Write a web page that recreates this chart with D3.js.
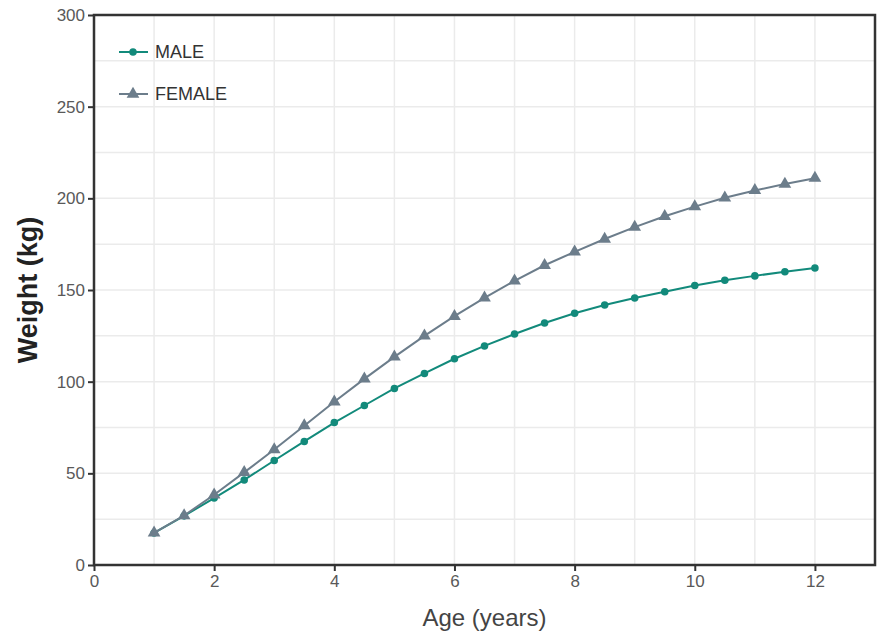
<!DOCTYPE html>
<html>
<head>
<meta charset="utf-8">
<script src="https://cdn.jsdelivr.net/npm/d3@7"></script>
<style>
  body { margin: 0; background: #fff; }
  text { font-family: "Liberation Sans", Arial, sans-serif; }
</style>
</head>
<body>
<script>
// data
var ages = [1, 1.5, 2, 2.5, 3, 3.5, 4, 4.5, 5, 5.5, 6, 6.5, 7, 7.5, 8, 8.5, 9, 9.5, 10, 10.5, 11, 11.5, 12];
var male = [17.5, 26.8, 36.5, 46.4, 57, 67.4, 77.7, 87, 96.3, 104.5, 112.5, 119.5, 126, 132, 137.3, 141.8, 145.6, 149, 152.5, 155.3, 157.7, 160, 162];
var female = [17.5, 27, 38.3, 50.5, 63, 76, 89, 101.5, 113.5, 125, 135.7, 145.7, 155, 163.5, 170.8, 177.8, 184.3, 190.2, 195.5, 200.3, 204.3, 207.8, 211];
var xTicks = [0, 2, 4, 6, 8, 10, 12];
var yTicks = [0, 50, 100, 150, 200, 250, 300];

var W = 882, H = 636;
var margin = {left: 94, right: 7, top: 15, bottom: 71};

var svg = d3.select("body").append("svg").attr("width", W).attr("height", H);

var x = d3.scaleLinear().domain([0, 13]).range([margin.left, W - margin.right]);
var y = d3.scaleLinear().domain([0, 300]).range([H - margin.bottom, margin.top]);

// grid, major + minor
var g = svg.append("g");
d3.range(0, 13.01, 1).forEach(function (v) {
    g.append("line").attr("x1", x(v)).attr("x2", x(v)).attr("y1", y(0)).attr("y2", y(300))
        .attr("stroke", "#ebebeb").attr("stroke-width", 1.5);
});
d3.range(0, 300.1, 25).forEach(function (v) {
    g.append("line").attr("x1", x(0)).attr("x2", x(13)).attr("y1", y(v)).attr("y2", y(v))
        .attr("stroke", "#ebebeb").attr("stroke-width", 1.5);
});

// axes
var xAxis = svg.append("g").attr("transform", "translate(0," + y(0) + ")")
    .call(d3.axisBottom(x).tickValues(xTicks).tickSize(6).tickPadding(4).tickFormat(d3.format("d")));
var yAxis = svg.append("g").attr("transform", "translate(" + x(0) + ",0)")
    .call(d3.axisLeft(y).tickValues(yTicks).tickSize(6).tickPadding(3).tickFormat(d3.format("d")));
[xAxis, yAxis].forEach(function (a) {
    a.select(".domain").remove();
    a.selectAll(".tick line").attr("stroke", "#333").attr("stroke-width", 2);
    a.selectAll(".tick text").attr("fill", "#595959").style("font-size", "17px");
});

// panel border
svg.append("rect").attr("x", x(0)).attr("y", y(300))
    .attr("width", x(13) - x(0)).attr("height", y(0) - y(300))
    .attr("fill", "none").attr("stroke", "#333").attr("stroke-width", 2.5);

var series = [
    {name: "MALE", values: male, color: "#128a7b", shape: d3.symbolCircle, size: 45},
    {name: "FEMALE", values: female, color: "#6c7d8b", shape: d3.symbolTriangle, size: 70}
];

var line = d3.line().x(function (d) { return x(d[0]); }).y(function (d) { return y(d[1]); });

series.forEach(function (s) {
    var pts = ages.map(function (a, i) { return [a, s.values[i]]; });
    svg.append("path").datum(pts).attr("d", line)
        .attr("fill", "none").attr("stroke", s.color).attr("stroke-width", 2);
    svg.append("g").selectAll("path").data(pts).enter().append("path")
        .attr("transform", function (d) { return "translate(" + x(d[0]) + "," + y(d[1]) + ")"; })
        .attr("d", d3.symbol().type(s.shape).size(s.size))
        .attr("fill", s.color);
});

// legend
series.forEach(function (s, i) {
    var ly = 52 + i * 42;
    svg.append("line").attr("x1", 119).attr("x2", 148).attr("y1", ly).attr("y2", ly)
        .attr("stroke", s.color).attr("stroke-width", 2);
    svg.append("path").attr("transform", "translate(133," + ly + ")")
        .attr("d", d3.symbol().type(s.shape).size(s.size)).attr("fill", s.color);
    svg.append("text").attr("x", 155).attr("y", ly + 6).text(s.name)
        .attr("fill", "#333").style("font-size", "18px");
});

// axis titles
svg.append("text").attr("x", (x(0) + x(13)) / 2).attr("y", 626).attr("text-anchor", "middle")
    .attr("fill", "#444").style("font-size", "24px").text("Age (years)");
svg.append("text").attr("transform", "translate(37," + ((y(0) + y(300)) / 2) + ") rotate(-90)")
    .attr("text-anchor", "middle").attr("fill", "#222").style("font-size", "27px")
    .style("font-weight", "bold").text("Weight (kg)");
</script>
</body>
</html>
